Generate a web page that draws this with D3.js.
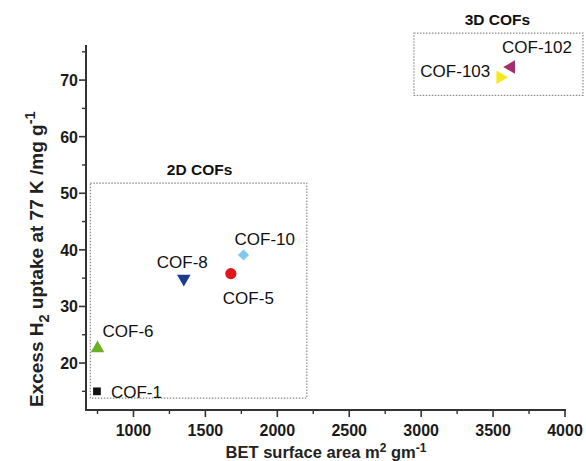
<!DOCTYPE html>
<html><head><meta charset="utf-8">
<script src="https://cdn.jsdelivr.net/npm/d3@7"></script>
<style>body{margin:0;background:#fff}svg{display:block}</style>
</head><body><svg id="c" width="586" height="461"></svg>
<script>
const names = ["COF-1","COF-6","COF-8","COF-5","COF-10","COF-103","COF-102"];
const bet = [746, 750, 1350, 1677, 1765, 3550, 3625];
const h2 = [15.0, 22.6, 34.9, 35.8, 39.1, 70.5, 72.3];
const colors = ["#111111","#6cb024","#1b3c8e","#e3141c","#80c9ec","#f2ea1c","#a2306e"];
const shapes = ["square","triUp","triDown","circle","diamond","triRight","triLeft"];
const xTicks = [1000,1500,2000,2500,3000,3500,4000];
const yTicks = [20,30,40,50,60,70];
const groups = ["2D COFs","3D COFs"];
const groupX = [[700,2205],[2950,4125]];
const groupY = [[13.8,51.8],[67.3,78.3]];

const svg = d3.select("#c");
const FONT = "Liberation Sans, Arial, sans-serif";
const x = d3.scaleLinear().domain([670,4000]).range([86, 565]);
const y = d3.scaleLinear().domain([11.7,76.2]).range([410, 45]);

// group boxes
groups.forEach((g,i)=>{
  svg.append("rect")
    .attr("x", x(groupX[i][0])).attr("y", y(groupY[i][1]))
    .attr("width", x(groupX[i][1])-x(groupX[i][0]))
    .attr("height", y(groupY[i][0])-y(groupY[i][1]))
    .attr("fill","none").attr("stroke","#8a8a8a").attr("stroke-width",1.2)
    .attr("stroke-dasharray","1.5,1.5");
  svg.append("text")
    .attr("x",(x(groupX[i][0])+x(groupX[i][1]))/2 + (i==0?1:-1))
    .attr("y", y(groupY[i][1]) - 8)
    .attr("text-anchor","middle").attr("font-family",FONT)
    .attr("font-weight","bold").attr("font-size",15.5).attr("fill","#111").text(g);
});

// axes
const axisColor = "#333";
const xMinor = d3.range(750, 4001, 500);
const yMinor = d3.range(15, 76, 10);
const gx = svg.append("g").attr("transform",`translate(0,${y.range()[0]})`);
gx.append("line").attr("x1",x.range()[0]-1).attr("x2",x.range()[1]+1).attr("stroke",axisColor).attr("stroke-width",2);
gx.selectAll(".mj").data(xTicks).join("line").attr("x1",d=>x(d)).attr("x2",d=>x(d)).attr("y1",0).attr("y2",7).attr("stroke",axisColor).attr("stroke-width",1.6);
gx.selectAll(".mn").data(xMinor).join("line").attr("x1",d=>x(d)).attr("x2",d=>x(d)).attr("y1",0).attr("y2",4).attr("stroke",axisColor).attr("stroke-width",1.4);
gx.selectAll("text").data(xTicks).join("text").attr("x",d=>x(d)).attr("y",26)
  .attr("text-anchor","middle").attr("font-family",FONT)
  .attr("font-weight","bold").attr("font-size",16).attr("fill","#1a1a1a").text(d=>d);

const gy = svg.append("g").attr("transform",`translate(${x.range()[0]},0)`);
gy.append("line").attr("y1",y.range()[0]+1).attr("y2",y.range()[1]).attr("stroke",axisColor).attr("stroke-width",2);
gy.selectAll(".mj").data(yTicks).join("line").attr("y1",d=>y(d)).attr("y2",d=>y(d)).attr("x1",0).attr("x2",-7).attr("stroke",axisColor).attr("stroke-width",1.6);
gy.selectAll(".mn").data(yMinor).join("line").attr("y1",d=>y(d)).attr("y2",d=>y(d)).attr("x1",0).attr("x2",-4).attr("stroke",axisColor).attr("stroke-width",1.4);
gy.selectAll("text").data(yTicks).join("text").attr("x",-8).attr("y",d=>y(d)+6)
  .attr("text-anchor","end").attr("font-family",FONT)
  .attr("font-weight","bold").attr("font-size",16).attr("fill","#1a1a1a").text(d=>d);

// axis titles
const xt = svg.append("text").attr("x",326).attr("y",458).attr("text-anchor","middle")
  .attr("font-family",FONT).attr("font-weight","bold")
  .attr("font-size",16.5).attr("fill","#222");
xt.append("tspan").text("BET surface area m");
xt.append("tspan").attr("dy",-6).attr("font-size",12).text("2");
xt.append("tspan").attr("dy",6).text(" gm");
xt.append("tspan").attr("dy",-6).attr("font-size",12).text("-1");

const yt = svg.append("text").attr("transform","translate(43,407) rotate(-90)").attr("text-anchor","start")
  .attr("font-family",FONT).attr("font-weight","bold")
  .attr("font-size",19).attr("fill","#222");
yt.append("tspan").text("Excess H");
yt.append("tspan").attr("dy",6).attr("font-size",14.5).text("2");
yt.append("tspan").attr("dy",-6).text(" uptake at 77 K /mg g");
yt.append("tspan").attr("dy",-8).attr("font-size",14.5).text("-1");

// markers
const sym = {
  square: d3.symbol().type(d3.symbolSquare).size(60),
  circle: d3.symbol().type(d3.symbolCircle).size(100),
  diamond: d3.symbol().type(d3.symbolSquare).size(62),
  triUp: d3.symbol().type(d3.symbolTriangle).size(80),
  triDown: d3.symbol().type(d3.symbolTriangle).size(80),
  triRight: d3.symbol().type(d3.symbolTriangle).size(80),
  triLeft: d3.symbol().type(d3.symbolTriangle).size(80)
};
const rot = {triDown:180, triRight:90, triLeft:-90, diamond:45};
names.forEach((n,i)=>{
  svg.append("path").attr("d", sym[shapes[i]]())
    .attr("transform",`translate(${x(bet[i])},${y(h2[i])}) rotate(${rot[shapes[i]]||0})`)
    .attr("fill", colors[i]);
});

// labels (offsets in px relative to marker)
const labelOffset = {
  "COF-1":[14,7,"start"], "COF-6":[5,-11,"start"], "COF-8":[-27,-11,"start"],
  "COF-5":[-8,30,"start"], "COF-10":[-9,-10,"start"], "COF-103":[-10,0,"end"],
  "COF-102":[-9,-14,"start"]
};
names.forEach((n,i)=>{
  const o = labelOffset[n];
  svg.append("text").attr("x",x(bet[i])+o[0]).attr("y",y(h2[i])+o[1])
    .attr("text-anchor",o[2]).attr("font-family",FONT)
    .attr("font-size",17).attr("fill","#111").text(n);
});
</script></body></html>
